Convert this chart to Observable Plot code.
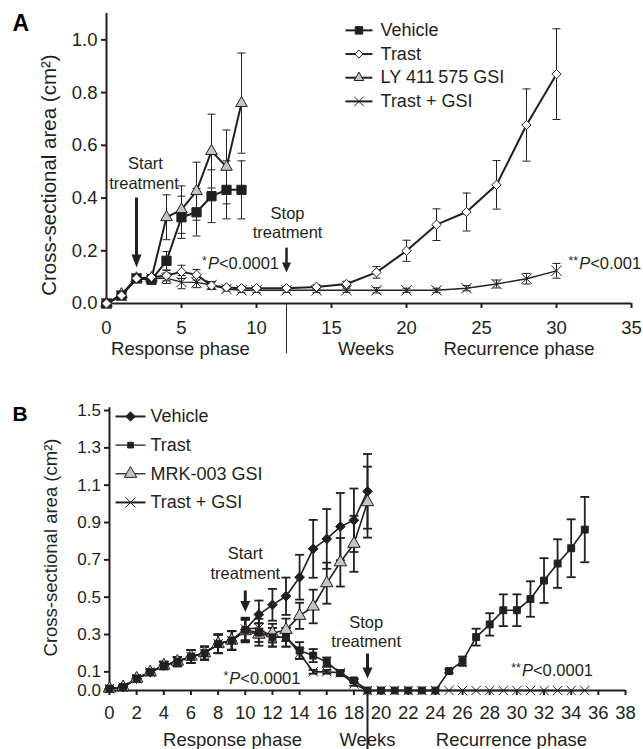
<!DOCTYPE html>
<html><head><meta charset="utf-8">
<script src="https://cdn.jsdelivr.net/npm/d3@7"></script>
<script src="https://cdn.jsdelivr.net/npm/@observablehq/plot@0.6"></script>
<style>body{margin:0;background:#fff} #chart svg{display:block;overflow:visible}</style>
</head><body><div id="chart"></div>
<script>
// ---------- Panel A data ----------
const weeksA_resp = [0,1,2,3,4,5,6,7,8,9];
const vehicleA     = [0,0.03,0.095,0.09,0.162,0.327,0.346,0.407,0.431,0.431];
const vehicleA_err = [0,0.005,0.015,0.01,0.035,0.08,0.09,0.1,0.11,0.11];
const lyA          = [0,0.035,0.095,0.096,0.327,0.356,0.426,0.578,0.518,0.76];
const lyA_err      = [0,0.005,0.015,0.01,0.085,0.09,0.11,0.14,0.14,0.19];
const weeksA_long  = [0,1,2,3,4,5,6,7,8,9,10,12,14,16,18,20,22,24,26,28,30];
const trastA       = [0,0.03,0.095,0.1,0.106,0.12,0.109,0.068,0.061,0.058,0.058,0.058,0.063,0.074,0.118,0.2,0.299,0.347,0.45,0.677,0.87];
const trastA_err   = [0,0.005,0.015,0.01,0.02,0.025,0.02,0.015,0.008,0.005,0.005,0.005,0.008,0.01,0.022,0.04,0.06,0.072,0.092,0.137,0.172];
const comboA       = [0,0.03,0.095,0.095,0.096,0.081,0.08,0.07,0.055,0.05,0.05,0.05,0.05,0.05,0.05,0.05,0.05,0.058,0.074,0.094,0.124];
const comboA_err   = [0,0.005,0.015,0.01,0.02,0.025,0.02,0.012,0.008,0.008,0.008,0.008,0.008,0.008,0.01,0.008,0.008,0.01,0.015,0.02,0.028];
const namesA = ["Vehicle","Trast","LY 411\u2009575 GSI","Trast + GSI"];
const xTicksA = [0,5,10,15,20,25,30,35];
const yTicksA = [0,0.2,0.4,0.6,0.8,1.0];

// ---------- Panel B data ----------
const weeksB_resp = [0,1,2,3,4,5,6,7,8,9,10,11,12,13,14,15,16,17,18,19];
const vehicleB     = [0.01,0.018,0.064,0.098,0.134,0.155,0.182,0.2,0.25,0.268,0.325,0.407,0.459,0.505,0.607,0.759,0.812,0.878,0.912,1.067];
const vehicleB_err = [0.01,0.01,0.015,0.015,0.02,0.025,0.035,0.035,0.05,0.05,0.06,0.075,0.085,0.1,0.12,0.155,0.16,0.18,0.17,0.2];
const mrkB         = [0.01,0.018,0.064,0.098,0.134,0.155,0.182,0.2,0.25,0.268,0.318,0.3,0.307,0.325,0.4,0.45,0.575,0.687,0.786,1.009];
const mrkB_err     = [0.01,0.01,0.015,0.015,0.02,0.025,0.035,0.035,0.05,0.05,0.06,0.06,0.05,0.06,0.07,0.09,0.11,0.13,0.15,0.19];
const weeksB_long = [0,1,2,3,4,5,6,7,8,9,10,11,12,13,14,15,16,17,18,19,20,21,22,23,24,25,26,27,28,29,30,31,32,33,34,35];
const trastB       = [0.01,0.018,0.064,0.098,0.134,0.155,0.182,0.2,0.25,0.268,0.325,0.31,0.285,0.285,0.214,0.187,0.152,0.093,0.054,0,0,0,0,0,0,0.104,0.157,0.286,0.354,0.43,0.43,0.49,0.589,0.68,0.762,0.862];
const trastB_err   = [0.01,0.01,0.015,0.015,0.02,0.025,0.035,0.035,0.05,0.05,0.06,0.05,0.05,0.05,0.045,0.035,0.025,0.015,0.01,0,0,0,0,0,0,0.01,0.025,0.045,0.06,0.085,0.085,0.095,0.12,0.13,0.155,0.175];
const comboB       = [0.01,0.018,0.064,0.098,0.134,0.155,0.182,0.2,0.25,0.268,0.33,0.334,0.285,0.285,0.2,0.1,0.1,0.095,0.035,0,0,0,0,0,0,0,0,0,0,0,0,0,0,0,0,0];
const comboB_err   = [0.01,0.01,0.015,0.015,0.02,0.025,0.035,0.035,0.05,0.05,0.06,0.05,0.05,0.05,0.03,0.01,0.01,0.01,0.01,0,0,0,0,0,0,0,0,0,0,0,0,0,0,0,0,0];
const namesB = ["Vehicle","Trast","MRK-003 GSI","Trast + GSI"];
const xTicksB = [0,2,4,6,8,10,12,14,16,18,20,22,24,26,28,30,32,34,36,38];
const yTicksB = [0,0.1,0.3,0.5,0.7,0.9,1.1,1.3,1.5];

const phaseLabels = ["Response phase","Weeks","Recurrence phase"];
const yLabel = "Cross-sectional area (cm\u00b2)";

// ---------- helpers ----------
const INK = "#231f20";
const GRAY = "#c4c4c4";
const FONT = "'Liberation Sans', Arial, Helvetica, sans-serif";
function rows(series, weeks, vals, errs){ return weeks.map((w,i)=>({series, week:w, value:vals[i], err:errs[i]})); }
function capSym(w){ return {draw(c){ c.moveTo(-w,0); c.lineTo(w,0); }}; }
function headSym(w,h){ return {draw(c){ c.moveTo(-w,-h); c.lineTo(w,-h); c.lineTo(0,0); c.closePath(); }}; }

function buildPanel(cfg){
  const m = [];
  m.push(Plot.ruleY([0], {x1: cfg.xDomain[0], x2: cfg.xDomain[1], stroke: INK, strokeWidth: cfg.axisW}));
  m.push(Plot.ruleX([0], {y1: 0, y2: cfg.yTop, stroke: INK, strokeWidth: cfg.axisW}));
  m.push(Plot.axisX({ticks: cfg.xTicks, tickSize: 5, tickPadding: cfg.xPad, fontSize: cfg.tickFont, strokeWidth: cfg.axisW, label: null, tickFormat: d => String(d)}));
  m.push(Plot.axisY({ticks: cfg.yTicks, tickSize: 5, tickPadding: cfg.yPad, fontSize: cfg.yTickFont, strokeWidth: cfg.axisW, label: null, tickFormat: d3.format(".1f")}));
  m.push(Plot.ruleX([cfg.sepX], {y1: 0, y2: cfg.sepY2, stroke: INK, strokeWidth: cfg.sepW}));
  for (const s of cfg.series) {
    const withErr = s.data.filter(d => d.err > 0);
    m.push(Plot.ruleX(withErr, {x: "week", y1: d => d.value - d.err, y2: d => d.value + d.err, stroke: INK, strokeWidth: cfg.errW}));
    m.push(Plot.dot(withErr, {x: "week", y: d => d.value + d.err, symbol: capSym(cfg.capW), fill: "none", stroke: INK, strokeWidth: cfg.errW}));
    m.push(Plot.dot(withErr, {x: "week", y: d => d.value - d.err, symbol: capSym(cfg.capW), fill: "none", stroke: INK, strokeWidth: cfg.errW}));
  }
  for (const s of cfg.series) m.push(Plot.line(s.data, {x: "week", y: "value", stroke: INK, strokeWidth: s.lw}));
  for (const s of cfg.series) m.push(Plot.dot(s.data, {x: "week", y: "value", symbol: s.symbol, r: s.r, fill: s.fill, stroke: INK, strokeWidth: s.sw}));
  for (const s of cfg.legendRows) {
    m.push(Plot.link([s], {x1: cfg.leg.x1, x2: cfg.leg.x2, y1: "ly", y2: "ly", stroke: INK, strokeWidth: s.legLw}));
    m.push(Plot.dot([s], {x: cfg.leg.xm, y: "ly", symbol: s.symbol, r: s.legR, fill: s.fill, stroke: INK, strokeWidth: s.sw}));
  }
  m.push(Plot.text(cfg.legendRows, {x: cfg.leg.xt, y: "ly", text: "name", textAnchor: "start", lineAnchor: "middle", fontSize: cfg.legFont, fill: INK}));
  m.push(Plot.link(cfg.arrows, {x1: "x", x2: "x", y1: "y1", y2: "y2", stroke: INK, strokeWidth: "w"}));
  for (const a of cfg.arrows) m.push(Plot.dot([a], {x: "x", y: "tip", symbol: headSym(a.hw, a.hh), fill: INK, stroke: "none"}));
  for (const n of cfg.notes) m.push(Plot.text([n], {x: "x", y: "y", text: "t", textAnchor: n.anchor, lineAnchor: "middle", fontSize: n.fs, fill: INK}));
  m.push(Plot.text(phaseLabels, {x: (d, i) => cfg.phaseX[i], frameAnchor: "bottom", dy: cfg.phaseDy, lineAnchor: "middle", textAnchor: "middle", text: d => d, fontSize: cfg.phaseFont, fill: INK}));
  m.push(Plot.text([yLabel], {y: cfg.yLabelY, frameAnchor: "left", dx: cfg.yLabelDx, rotate: -90, textAnchor: "middle", lineAnchor: "middle", text: d => d, fontSize: cfg.yLabelFont, fill: INK}));
  m.push(Plot.text([cfg.letter], {frameAnchor: "top-left", dx: cfg.letterDx, dy: cfg.letterDy, text: d => d, textAnchor: "start", lineAnchor: "top", fontSize: cfg.letterFont, fontWeight: "bold", fill: "#000"}));
  const svg = Plot.plot({
    width: 643, height: cfg.height,
    marginTop: cfg.mt, marginBottom: cfg.mb, marginLeft: cfg.ml, marginRight: cfg.mr,
    x: {domain: cfg.xDomain, axis: null},
    y: {domain: cfg.yDomain, axis: null},
    style: {fontFamily: FONT, fontSize: cfg.tickFont + "px", color: INK, background: "white"},
    marks: m
  });
  const ns = "http://www.w3.org/2000/svg";
  svg.querySelectorAll("text").forEach(t => {
    const mm = t.textContent.match(/^(\*+)P(<.*)$/);
    if (mm && t.children.length === 0) {
      t.textContent = "";
      const a = document.createElementNS(ns, "tspan"); a.textContent = mm[1]; a.setAttribute("font-size", "0.75em"); a.setAttribute("dy", "-0.3em");
      const p = document.createElementNS(ns, "tspan"); p.textContent = "P"; p.setAttribute("font-style", "italic"); p.setAttribute("dy", "0.225em"); p.setAttribute("dx", "1");
      const r = document.createElementNS(ns, "tspan"); r.textContent = mm[2];
      t.append(a, p, r);
    }
  });
  return svg;
}

const sA = [
  {name: namesA[2], data: rows(namesA[2], weeksA_resp, lyA, lyA_err), symbol: "triangle", r: 4.3, legR: 3.6, fill: GRAY, sw: 1, lw: 2, legLw: 2},
  {name: namesA[0], data: rows(namesA[0], weeksA_resp, vehicleA, vehicleA_err), symbol: "square", r: 5.2, legR: 4.2, fill: INK, sw: 1, lw: 2, legLw: 2},
  {name: namesA[3], data: rows(namesA[3], weeksA_long, comboA, comboA_err), symbol: "times", r: 4.8, legR: 4.4, fill: "none", sw: 1, lw: 1.4, legLw: 2},
  {name: namesA[1], data: rows(namesA[1], weeksA_long, trastA, trastA_err), symbol: "diamond2", r: 4.2, legR: 3.6, fill: "white", sw: 1, lw: 2, legLw: 2}
];
const cfgA = {
  height: 360, mt: 13, mb: 57, ml: 106, mr: 12,
  xDomain: [0, 35], yDomain: [0, 1.1], yTop: 1.1,
  xTicks: xTicksA, yTicks: yTicksA, xPad: 12, yPad: 4, tickFont: 18.5, yTickFont: 18.5, axisW: 2,
  sepX: 12, sepY2: -0.19, sepW: 1,
  errW: 1, capW: 4,
  leg: {top: 1.036, step: 0.0898, x1: 15.93, x2: 17.73, xm: 16.83, xt: 18.27},
  legFont: 18,
  arrows: [
    {x: 2, y1: 0.402, y2: 0.17, tip: 0.137, w: 3, hw: 5, hh: 13},
    {x: 12, y1: 0.212, y2: 0.14, tip: 0.118, w: 2.5, hw: 4.5, hh: 10}
  ],
  notes: [
    {x: 2.6, y: 0.531, t: "Start", anchor: "middle", fs: 16.5},
    {x: 2.5, y: 0.455, t: "treatment", anchor: "middle", fs: 16.5},
    {x: 12.07, y: 0.341, t: "Stop", anchor: "middle", fs: 16.5},
    {x: 12.07, y: 0.269, t: "treatment", anchor: "middle", fs: 16.5},
    {x: 11.5, y: 0.152, t: "*P<0.0001", anchor: "end", fs: 16.5},
    {x: 30.8, y: 0.152, t: "**P<0.001", anchor: "start", fs: 16.5}
  ],
  phaseX: [4.93, 17.3, 27.5], phaseDy: 46, phaseFont: 18.5,
  yLabelY: 0.487, yLabelDx: -57, yLabelFont: 20.5,
  letter: "A", letterDx: -94, letterDy: 1, letterFont: 23
};

const sB = [
  {name: namesB[0], data: rows(namesB[0], weeksB_resp, vehicleB, vehicleB_err), symbol: "diamond2", r: 4.4, legR: 4.2, fill: INK, sw: 1, lw: 1.6, legLw: 2},
  {name: namesB[2], data: rows(namesB[2], weeksB_resp, mrkB, mrkB_err), symbol: "triangle", r: 4.6, legR: 4.6, fill: GRAY, sw: 1, lw: 1.6, legLw: 1.3},
  {name: namesB[1], data: rows(namesB[1], weeksB_long, trastB, trastB_err), symbol: "square", r: 3.9, legR: 3.2, fill: INK, sw: 1, lw: 1.6, legLw: 1.3},
  {name: namesB[3], data: rows(namesB[3], weeksB_long, comboB, comboB_err), symbol: "times", r: 4.3, legR: 4.6, fill: "none", sw: 1, lw: 1.6, legLw: 2}
];
const cfgB = {
  height: 389, mt: 50, mb: 59, ml: 109, mr: 18,
  xDomain: [0, 38], yDomain: [0, 1.5], yTop: 1.515,
  xTicks: xTicksB, yTicks: yTicksB, xPad: 10, yPad: 3.5, tickFont: 18.5, yTickFont: 17, axisW: 2,
  sepX: 19, sepY2: -0.32, sepW: 2,
  errW: 1.8, capW: 4.5,
  leg: {top: 1.468, step: 0.1535, x1: 0.44, x2: 2.65, xm: 1.55, xt: 3.02},
  legFont: 18,
  arrows: [
    {x: 10, y1: 0.536, y2: 0.45, tip: 0.42, w: 3, hw: 5, hh: 11},
    {x: 19, y1: 0.198, y2: 0.1, tip: 0.064, w: 3, hw: 5, hh: 11}
  ],
  notes: [
    {x: 10.0, y: 0.734, t: "Start", anchor: "middle", fs: 16.5},
    {x: 10.0, y: 0.628, t: "treatment", anchor: "middle", fs: 16.5},
    {x: 18.9, y: 0.364, t: "Stop", anchor: "middle", fs: 16.5},
    {x: 18.9, y: 0.264, t: "treatment", anchor: "middle", fs: 16.5},
    {x: 11.23, y: 0.064, t: "*P<0.0001", anchor: "middle", fs: 16.5},
    {x: 32.6, y: 0.107, t: "**P<0.0001", anchor: "middle", fs: 16.5}
  ],
  phaseX: [9.06, 19.0, 29.6], phaseDy: 50, phaseFont: 18.5,
  yLabelY: 0.766, yLabelDx: -58, yLabelFont: 18.5,
  letter: "B", letterDx: -97, letterDy: -4, letterFont: 21
};

const legOrderA = [1, 3, 0, 2]; // Vehicle, Trast, LY, Trast+GSI
const legOrderB = [0, 2, 1, 3]; // Vehicle, Trast, MRK, Trast+GSI
function withLegend(cfg, series, order){
  return {...cfg, series, legendRows: order.map((idx, i) => ({...series[idx], ly: cfg.leg.top - i * cfg.leg.step}))};
}
const chart = document.getElementById("chart");
chart.append(buildPanel(withLegend(cfgA, sA, legOrderA)));
chart.append(buildPanel(withLegend(cfgB, sB, legOrderB)));
</script></body></html>
